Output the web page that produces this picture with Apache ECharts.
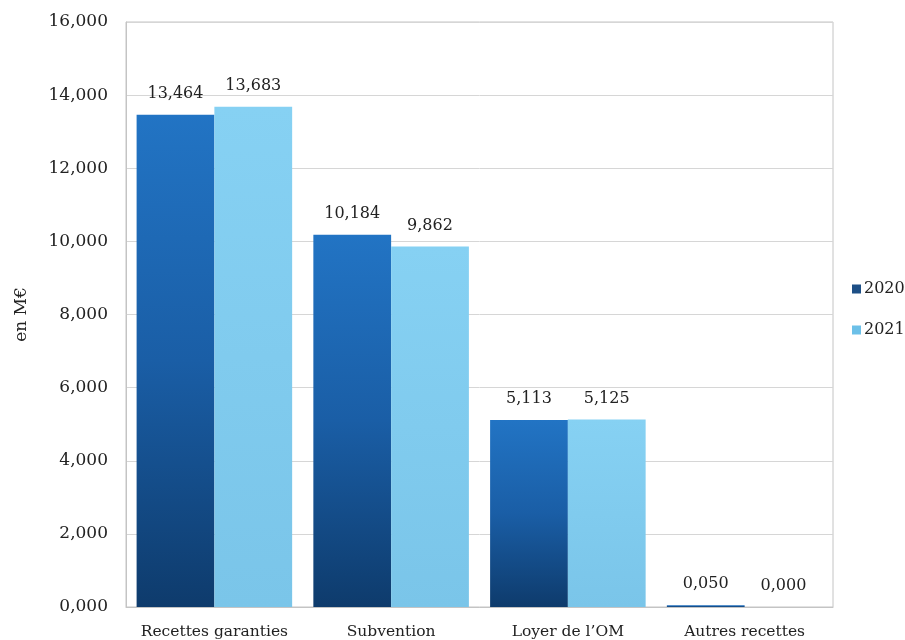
<!DOCTYPE html>
<html>
<head>
<meta charset="utf-8">
<script src="https://cdn.jsdelivr.net/npm/echarts@6/dist/echarts.min.js"></script>
<style>
  html, body { margin: 0; padding: 0; background: #fff; }
  #chart { width: 905px; height: 640px; }
</style>
</head>
<body>
<div id="chart"></div>
<script>
// Recettes (en M€), 2020 vs 2021
const categories = ['Recettes garanties', 'Subvention', 'Loyer de l\u2019OM', 'Autres recettes'];
const values2020 = [13.464, 10.184, 5.113, 0.050];
const values2021 = [13.683, 9.862, 5.125, 0.000];
const seriesNames = ['2020', '2021'];

const FONT = '"DejaVu Serif", "Liberation Serif", serif';
const TEXT = '#222222';
const fmt = v => Number(v).toFixed(3).replace('.', ',');

const dark = new echarts.graphic.LinearGradient(0, 0, 0, 1, [
  { offset: 0, color: '#2274c4' },
  { offset: 0.5, color: '#1a5ea6' },
  { offset: 1, color: '#0e3b6c' }
]);
const light = new echarts.graphic.LinearGradient(0, 0, 0, 1, [
  { offset: 0, color: '#86d1f3' },
  { offset: 1, color: '#7ac5e9' }
]);

const labelStyle = {
  show: true,
  position: 'top',
  distance: 13,
  fontFamily: FONT,
  fontSize: 16,
  color: TEXT,
  formatter: p => fmt(p.value)
};

const chart = echarts.init(document.getElementById('chart'));
chart.setOption({
  animation: false,
  textStyle: { fontFamily: FONT },
  grid: {
    left: 126, right: 72, top: 22, bottom: 32,
    show: true, borderColor: '#c4c4c4', borderWidth: 1
  },
  legend: {
    orient: 'vertical',
    left: 847, top: 276,
    itemWidth: 9, itemHeight: 9, itemGap: 25,
    icon: 'rect',
    textStyle: { fontFamily: FONT, fontSize: 16, color: TEXT, padding: [0, 0, 0, -2] },
    data: [
      { name: seriesNames[0], itemStyle: { color: '#1d4f86' } },
      { name: seriesNames[1], itemStyle: { color: '#6cc0e8' } }
    ]
  },
  xAxis: {
    type: 'category',
    data: categories,
    axisLine: { lineStyle: { color: '#c4c4c4' } },
    axisTick: { show: false },
    axisLabel: { interval: 0, fontFamily: FONT, fontSize: 15.5, color: TEXT, margin: 17 }
  },
  yAxis: {
    type: 'value',
    min: 0, max: 16, interval: 2,
    name: 'en M€',
    nameLocation: 'middle',
    nameGap: 96,
    nameRotate: 90,
    nameTextStyle: { fontFamily: FONT, fontSize: 17, color: TEXT },
    axisLine: { show: true, lineStyle: { color: '#c4c4c4' } },
    axisTick: { show: false },
    splitLine: { lineStyle: { color: '#d6d6d6' } },
    axisLabel: { fontFamily: FONT, fontSize: 17, color: TEXT, margin: 18, formatter: fmt }
  },
  series: [
    {
      name: seriesNames[0], type: 'bar', data: values2020,
      barGap: '0%', barCategoryGap: '12%',
      itemStyle: { color: dark },
      label: labelStyle
    },
    {
      name: seriesNames[1], type: 'bar', data: values2021,
      itemStyle: { color: light },
      label: labelStyle
    }
  ]
});
</script>
</body>
</html>
